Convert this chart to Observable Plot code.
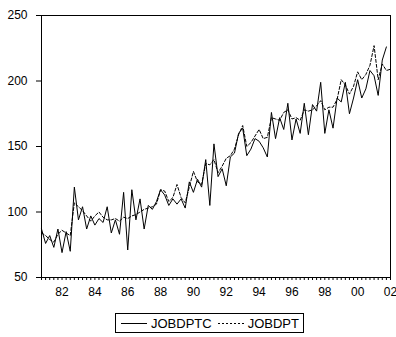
<!DOCTYPE html>
<html>
<head>
<meta charset="utf-8">
<script src="https://cdn.jsdelivr.net/npm/d3@7"></script>
<script src="https://cdn.jsdelivr.net/npm/@observablehq/plot@0.6"></script>
<style>
  body { margin: 0; background: #fff; font-family: "Liberation Sans", Arial, sans-serif; }
  #chart svg { display: block; }
  #legend {
    position: absolute; left: 115px; top: 313px; height: 20px;
    border: 1px solid #000; box-sizing: border-box;
    display: flex; align-items: center; font-size: 13px; color: #000;
    padding: 0 4px 0 5px; white-space: nowrap;
  }
  #legend svg { display: block; }
</style>
</head>
<body>
<div id="chart"></div>
<div id="legend"></div>
<script>
// Quarterly observations, first one is 1980Q4 (decimal year 1980.75)
const firstQuarter = 1980.75;

// JOBDPTC (solid line), 1980Q4 - 2001Q4
const jobdptc = [
  87, 76, 82, 73, 87, 69, 85, 70, 119, 94,
  104, 87, 97, 90, 95, 92, 104, 84, 94, 83,
  115, 71, 117, 94, 110, 87, 105, 102, 108, 117,
  113, 105, 110, 106, 110, 103, 123, 115, 125, 119,
  140, 105, 152, 127, 133, 120, 142, 145, 160, 164,
  143, 148, 156, 154, 149, 142, 176, 156, 172, 163,
  183, 155, 171, 160, 183, 159, 182, 177, 199, 160,
  178, 164, 187, 184, 199, 175, 187, 201, 187, 194,
  208, 204, 189, 216, 226
];

// JOBDPT (dashed line), 1980Q4 - 2002Q1
const jobdpt = [
  84, 82, 79, 77, 83, 86, 84, 82, 107, 104,
  101, 97, 93, 97, 100, 96, 94, 94, 95, 93,
  96, 95, 97, 98, 100, 102, 103, 104, 106, 117,
  116, 108, 111, 121, 111, 107, 119, 131, 123, 121,
  137, 136, 140, 130, 135, 141, 143, 148, 159, 166,
  150, 153, 158, 163, 156, 157, 172, 171, 170, 176,
  178, 171, 172, 170, 178, 177, 178, 181, 185, 178,
  180, 180, 186, 201, 197, 190, 196, 207, 201, 205,
  212, 227, 201, 213, 208, 209
];

const yearTicks = [1982, 1984, 1986, 1988, 1990, 1992, 1994, 1996, 1998, 2000, 2002];
const yearLabels = ["82", "84", "86", "88", "90", "92", "94", "96", "98", "00", "02"];
const yTicks = [50, 100, 150, 200, 250];
const seriesNames = ["JOBDPTC", "JOBDPT"];

const toRows = (values) => values.map((v, i) => ({date: firstQuarter + i / 4, value: v}));
const quarterTicks = d3.range(jobdpt.length).map((i) => firstQuarter + i / 4);

const chart = Plot.plot({
  width: 396,
  height: 302,
  marginLeft: 41,
  marginRight: 6,
  marginTop: 15,
  marginBottom: 25,
  style: {fontFamily: "Liberation Sans, Arial, sans-serif", fontSize: "12px", color: "#000", background: "#fff"},
  x: {domain: [firstQuarter, 2002]},
  y: {domain: [50, 250]},
  marks: [
    Plot.axisY({ticks: yTicks, tickSize: 5, tickPadding: 9, label: null}),
    Plot.axisX({ticks: quarterTicks, tickSize: 3, tickFormat: () => "", label: null}),
    Plot.axisX({ticks: yearTicks, tickSize: 0, tickPadding: 10, label: null,
      tickFormat: (d) => yearLabels[yearTicks.indexOf(d)]}),
    Plot.line(toRows(jobdptc), {x: "date", y: "value", stroke: "#000", strokeWidth: 1}),
    Plot.line(toRows(jobdpt), {x: "date", y: "value", stroke: "#000", strokeWidth: 1, strokeDasharray: "3,2"}),
    Plot.frame({stroke: "#000"})
  ]
});
document.getElementById("chart").append(chart);

// Legend: line sample + series name for each series
const legend = d3.select("#legend");
const dashes = [null, "2,2"];
seriesNames.forEach((name, k) => {
  const sw = legend.append("svg").attr("width", 27).attr("height", 10)
    .style("margin-left", k === 0 ? "0px" : "6px").style("margin-right", "3px");
  sw.append("line").attr("x1", 0).attr("x2", 26).attr("y1", 5.5).attr("y2", 5.5)
    .attr("stroke", "#000").attr("stroke-width", 1).attr("stroke-dasharray", dashes[k]);
  legend.append("span").text(name);
});
</script>
</body>
</html>
